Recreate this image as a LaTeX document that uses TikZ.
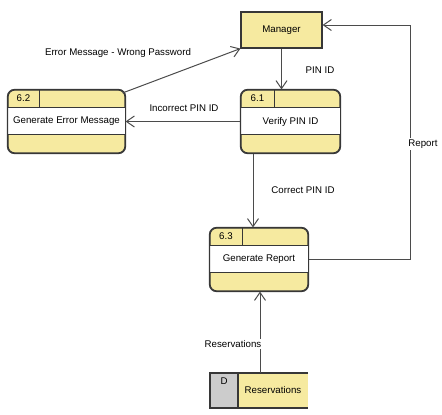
\documentclass[tikz,border=0pt]{standalone}
\usepackage{fontspec}
\setmainfont{Liberation Sans}
\usetikzlibrary{arrows.meta,calc}

\definecolor{dfdyellow}{RGB}{246,234,160}
\definecolor{dfdgray}{RGB}{204,204,204}
\definecolor{dfdline}{RGB}{55,55,55}
\definecolor{dfdedge}{RGB}{75,75,75}

\tikzset{
  x=1pt, y=-1pt,
  every node/.style={font=\fontsize{9.7}{11}\selectfont, inner sep=1pt},
  procbody/.style={draw=dfdline, line width=1.1pt, fill=dfdyellow, rounded corners=7pt, minimum height=63pt},
  procline/.style={draw=dfdline, line width=1.1pt},
  entity/.style={draw=dfdline, line width=1.1pt, fill=dfdyellow, minimum width=81pt, minimum height=36pt},
  flow/.style={draw=dfdedge, line width=1pt, -{Straight Barb[length=8pt,width=11pt,line width=1pt]}},
  flowlabel/.style={fill=white, inner sep=1.5pt},
}

% process box: name, centre x, centre y, width, number cell width, number, title
\newcommand{\dfdprocess}[7]{%
  \node[procbody, minimum width=#4pt] (#1) at (#2,#3) {};
  \fill[white] ($(#1.north west)+(0.5,18)$) rectangle ($(#1.north east)+(-0.5,45)$);
  \draw[procline] ($(#1.north west)+(0,18)$) -- ($(#1.north east)+(0,18)$);
  \draw[procline] ($(#1.north west)+(0,45)$) -- ($(#1.north east)+(0,45)$);
  \draw[procline] ($(#1.north west)+(#5,0)$) -- ($(#1.north west)+(#5,18)$);
  \draw[procline, rounded corners=7pt] (#1.north west) rectangle (#1.south east);
  \node (#1num) at ($(#1.north west)+(#5/2,9)$) {#6};
  \node (#1txt) at (#1.center) {#7};
}

\begin{document}
\begin{tikzpicture}
\useasboundingbox (0,0) rectangle (442,415);

% external entity
\node[entity] (m) at (281.5,30) {Manager};

% processes
\dfdprocess{p62}{66.5}{121.5}{117}{32}{6.2}{Generate Error Message}
\dfdprocess{p61}{290.5}{121.5}{99}{34}{6.1}{Verify PIN ID}
\dfdprocess{p63}{259}{259.5}{98}{33}{6.3}{Generate Report}

% data store (open on the right)
\fill[dfdgray] (210,373) rectangle (238,408);
\fill[dfdyellow] (238,373) rectangle (308,408);
\draw[procline] (308,373) -- (210,373) -- (210,408) -- (308,408);
\draw[procline] (238,373) -- (238,408);
\node (dnum) at (224,381) {D};
\node (store) at (273,390.5) {Reservations};
\coordinate (storetop) at (260,373);

% helper points for connector routing
\coordinate (errstart) at (122.5,93);
\coordinate (vx) at (253,0);
\coordinate (rcorner) at (410,25);

% data flows
\draw[flow] (m.south) -- (m.south |- p61.north);
\draw[flow] (p61.west) -- (p62.east);
\draw[flow] (errstart) -- (m.south west);
\draw[flow] (p61.south -| vx) -- (p63.north -| vx);
\draw[flow] (p63.east) -| (rcorner) -- (m.east |- rcorner);
\draw[flow] (storetop) -- (storetop |- p63.south);

% flow labels
\node (lerr) at (118,53) {Error Message - Wrong Password};
\node (lpin) at (320,70) {PIN ID};
\node (linc) at (184,108.5) {Incorrect PIN ID};
\node (lcor) at (303,190) {Correct PIN ID};
\node[flowlabel] (lrep) at (423,144) {Report};
\node[flowlabel] (lres) at (233,344) {Reservations};
\end{tikzpicture}
\end{document}
